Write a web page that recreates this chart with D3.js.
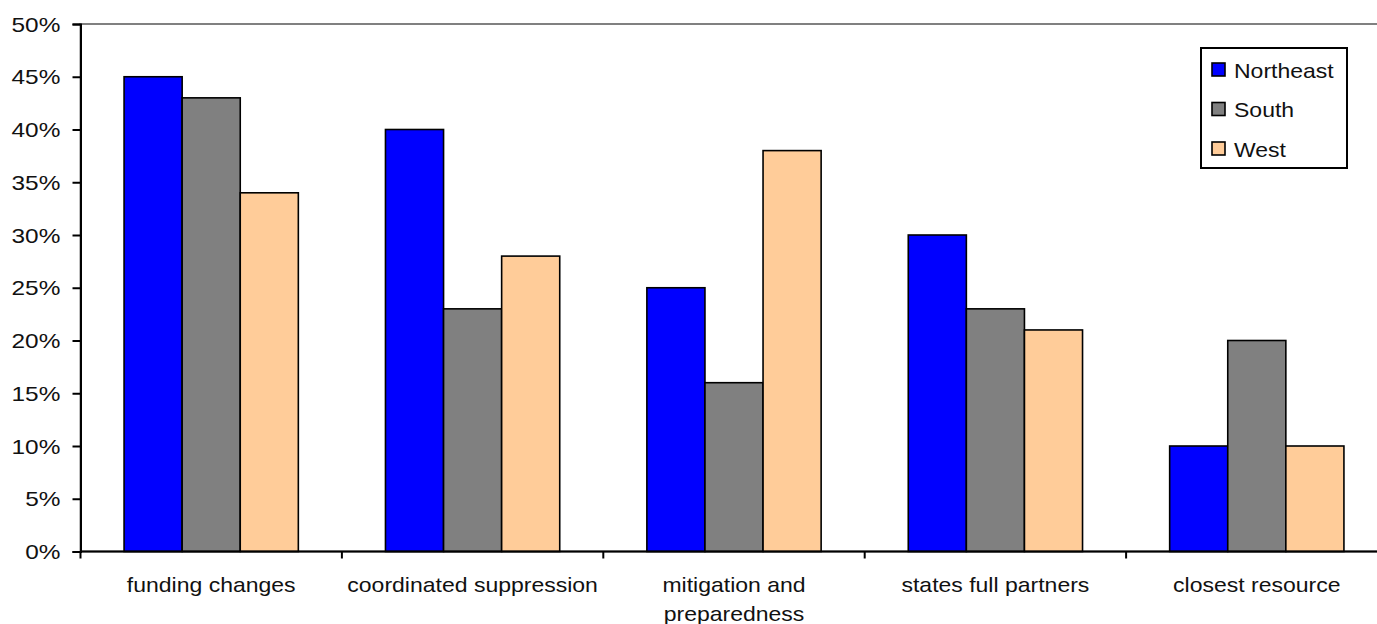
<!DOCTYPE html>
<html>
<head>
<meta charset="utf-8">
<script src="https://cdn.jsdelivr.net/npm/d3@7"></script>
<style>
  html, body { margin: 0; padding: 0; background: #fff; overflow: hidden; }
  svg { display: block; }
  text { font-family: "Liberation Sans", Arial, sans-serif; fill: #111; }
</style>
</head>
<body>
<svg id="chart" width="1377" height="624"></svg>
<script>
// Survey responses by region (share of respondents)
const categories = ["funding changes", "coordinated suppression", "mitigation and preparedness", "states full partners", "closest resource"];
const categoryLines = [["funding changes"], ["coordinated suppression"], ["mitigation and", "preparedness"], ["states full partners"], ["closest resource"]];
const seriesNames = ["Northeast", "South", "West"];
const northeast = [0.45, 0.40, 0.25, 0.30, 0.10];
const south     = [0.43, 0.23, 0.16, 0.23, 0.20];
const west      = [0.34, 0.28, 0.38, 0.21, 0.10];
const seriesValues = [northeast, south, west];
const seriesColors = ["#0000FF", "#808080", "#FFCC99"];
const yTicks = [0, 0.05, 0.10, 0.15, 0.20, 0.25, 0.30, 0.35, 0.40, 0.45, 0.50];

const svg = d3.select("#chart");
const plotLeft = 80.5, plotRight = 1387.5, plotTop = 24, plotBottom = 551.5;
const stretch = 1.15;      // horizontal text stretch
const tickStretch = 1.22;

const x0 = d3.scaleBand().domain(categories).range([plotLeft, plotRight]).paddingInner(0).paddingOuter(0);
const x1 = d3.scaleBand().domain(seriesNames).range([0, x0.bandwidth()]).paddingInner(0).paddingOuter(0.75);
const y = d3.scaleLinear().domain([0, 0.5]).range([plotBottom, plotTop]);

// plot area border (only the top edge is visible)
svg.append("rect")
  .attr("x", plotLeft).attr("y", plotTop)
  .attr("width", plotRight - plotLeft).attr("height", plotBottom - plotTop)
  .attr("fill", "none").attr("stroke", "#808080").attr("stroke-width", 2);

// bars
const groups = svg.append("g").selectAll("g")
  .data(categories)
  .join("g")
  .attr("transform", d => `translate(${x0(d)},0)`);

groups.selectAll("rect")
  .data((c, i) => seriesNames.map((s, k) => ({ s, v: seriesValues[k][i], color: seriesColors[k] })))
  .join("rect")
  .attr("x", d => x1(d.s))
  .attr("y", d => y(d.v))
  .attr("width", x1.bandwidth())
  .attr("height", d => y(0) - y(d.v))
  .attr("fill", d => d.color)
  .attr("stroke", "#000")
  .attr("stroke-width", 1.6);

// y axis
const yAxis = svg.append("g")
  .attr("transform", `translate(${plotLeft},0)`)
  .call(d3.axisLeft(y).tickValues(yTicks).tickFormat(d3.format(".0%")).tickSize(8).tickPadding(9));
yAxis.select(".domain").attr("stroke", "#000").attr("stroke-width", 2);
yAxis.selectAll(".tick line").attr("stroke", "#000").attr("stroke-width", 2);
yAxis.selectAll(".tick text")
  .attr("x", -16.5)
  .attr("dy", "0.36em")
  .attr("transform", `scale(${tickStretch},1)`)
  .style("font-size", "20px")
  .style("font-family", "'Liberation Sans', Arial, sans-serif")
  .attr("fill", "#111");

// x axis line and category boundary ticks
const xAxis = svg.append("g").attr("transform", `translate(0,${plotBottom})`);
xAxis.append("line")
  .attr("x1", plotLeft).attr("x2", plotRight)
  .attr("stroke", "#000").attr("stroke-width", 2);
const boundaries = categories.map(c => x0(c)).concat([x0(categories[categories.length - 1]) + x0.bandwidth()]);
xAxis.selectAll("line.bt")
  .data(boundaries)
  .join("line")
  .attr("class", "bt")
  .attr("x1", d => d).attr("x2", d => d)
  .attr("y1", 0).attr("y2", 7)
  .attr("stroke", "#000").attr("stroke-width", 2);

// category labels
const catLabels = xAxis.selectAll("g.cat")
  .data(categories)
  .join("g")
  .attr("class", "cat")
  .attr("transform", d => `translate(${x0(d) + x0.bandwidth() / 2},40.5) scale(${stretch},1)`);
catLabels.append("text")
  .attr("text-anchor", "middle")
  .style("font-size", "20px")
  .selectAll("tspan")
  .data((d, i) => categoryLines[i])
  .join("tspan")
  .attr("x", 0)
  .attr("y", (d, i) => i * 29)
  .text(d => d);

// legend
const legend = svg.append("g").attr("transform", "translate(1201,48)");
legend.append("rect")
  .attr("width", 146).attr("height", 120)
  .attr("fill", "#fff").attr("stroke", "#000").attr("stroke-width", 2);
const items = legend.selectAll("g.item")
  .data(seriesNames)
  .join("g")
  .attr("class", "item")
  .attr("transform", (d, i) => `translate(0,${22 + i * 39.5})`);
items.append("rect")
  .attr("x", 11).attr("y", -7)
  .attr("width", 13).attr("height", 13)
  .attr("fill", (d, i) => seriesColors[i])
  .attr("stroke", "#000").attr("stroke-width", 1.6);
items.append("text")
  .attr("transform", `translate(33,7.5) scale(${stretch},1)`)
  .style("font-size", "20px")
  .text(d => d);
</script>
</body>
</html>
